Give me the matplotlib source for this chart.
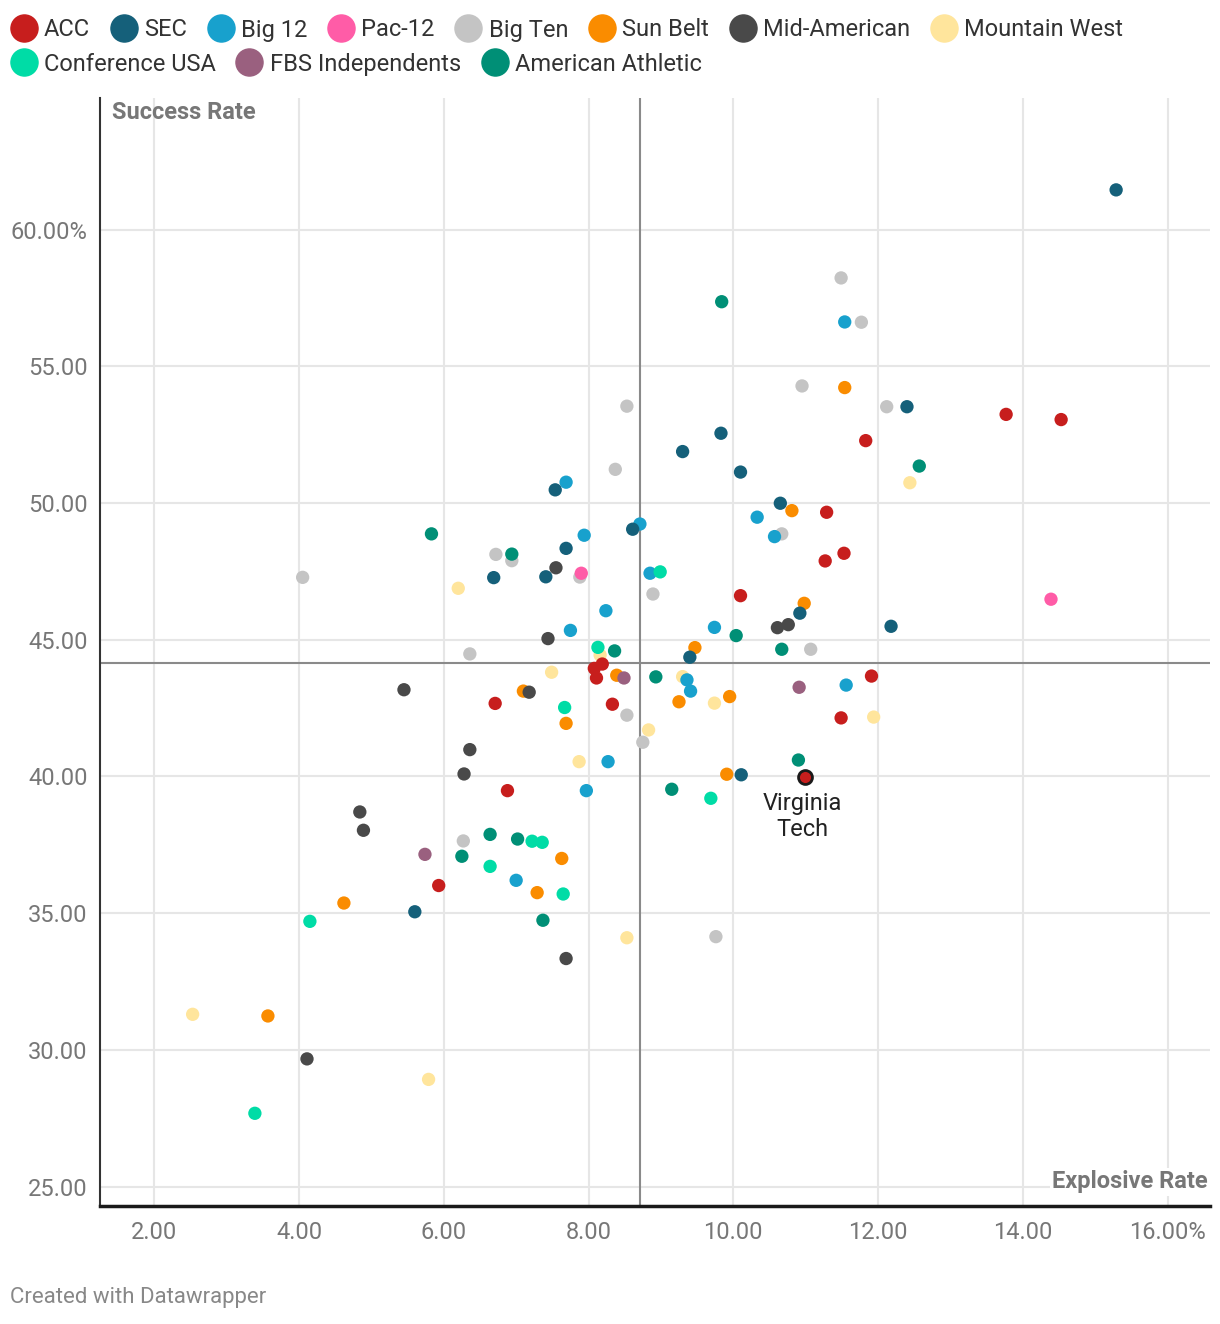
import matplotlib
matplotlib.use("Agg")
import matplotlib.pyplot as plt
from matplotlib.lines import Line2D
from matplotlib.ticker import FixedLocator, FuncFormatter

plt.rcParams['font.family'] = ['Roboto', 'DejaVu Sans']

# ---------------- data ----------------
conferences = ["ACC", "SEC", "Big 12", "Pac-12", "Big Ten", "Sun Belt", "Mid-American",
               "Mountain West", "Conference USA", "FBS Independents", "American Athletic"]
conf_colors = ["#c71e1d", "#15607a", "#18a1cd", "#ff5ca7", "#c4c4c4", "#fa8c00", "#494949",
               "#ffe59c", "#00dca6", "#9a607f", "#008f76"]

acc_x = [13.77, 14.53, 11.83, 11.29, 11.53, 11.27, 10.10, 11.91, 8.19, 8.08, 8.11, 6.71, 8.33, 11.49, 10.99, 6.88, 5.93]
acc_y = [53.24, 53.05, 52.28, 49.66, 48.16, 47.88, 46.61, 43.67, 44.11, 43.95, 43.60, 42.67, 42.64, 42.14, 39.98, 39.48, 36.01]
acc_names = ["", "", "", "", "", "", "", "", "", "", "", "", "", "", "Virginia Tech", "", ""]

sec_x = [15.29, 12.40, 9.83, 9.30, 10.10, 7.54, 10.65, 8.61, 7.69, 6.69, 7.41, 10.92, 12.18, 9.40, 10.11, 5.60]
sec_y = [61.45, 53.52, 52.55, 51.88, 51.13, 50.48, 49.99, 49.04, 48.34, 47.27, 47.30, 45.97, 45.49, 44.36, 40.06, 35.05]

big12_x = [11.54, 7.69, 10.33, 10.57, 8.71, 7.94, 8.85, 8.24, 9.74, 7.75, 9.36, 9.41, 11.56, 8.27, 7.97, 7.00]
big12_y = [56.62, 50.76, 49.48, 48.77, 49.23, 48.82, 47.43, 46.06, 45.45, 45.34, 43.53, 43.12, 43.34, 40.54, 39.48, 36.20]

pac12_x = [7.90, 14.39]
pac12_y = [47.43, 46.48]

bigten_x = [11.49, 11.77, 10.95, 8.53, 12.12, 8.37, 10.67, 6.72, 6.94, 4.05, 7.88, 8.89, 11.07, 6.36, 8.53, 8.75, 6.27, 9.76]
bigten_y = [58.23, 56.61, 54.28, 53.54, 53.52, 51.23, 48.87, 48.12, 47.89, 47.28, 47.29, 46.67, 44.65, 44.48, 42.24, 41.25, 37.64, 34.14]

sunbelt_x = [11.54, 10.81, 10.98, 9.47, 8.39, 7.10, 9.95, 9.25, 7.69, 9.91, 7.63, 7.29, 4.62, 3.57]
sunbelt_y = [54.22, 49.72, 46.33, 44.71, 43.70, 43.12, 42.92, 42.73, 41.94, 40.08, 37.00, 35.75, 35.37, 31.24]

midam_x = [7.55, 10.61, 10.76, 7.44, 5.45, 7.18, 6.36, 6.28, 4.84, 4.89, 7.69, 4.11]
midam_y = [47.63, 45.44, 45.55, 45.04, 43.17, 43.08, 40.98, 40.09, 38.70, 38.03, 33.34, 29.67]

mw_x = [12.44, 6.20, 7.49, 8.16, 9.30, 9.74, 11.94, 8.83, 7.87, 8.53, 2.53, 5.79]
mw_y = [50.74, 46.88, 43.81, 44.44, 43.65, 42.68, 42.17, 41.70, 40.54, 34.10, 31.30, 28.92]

cusa_x = [8.99, 8.13, 7.67, 9.69, 7.22, 7.36, 6.64, 7.65, 4.15, 3.39]
cusa_y = [47.48, 44.72, 42.52, 39.20, 37.63, 37.59, 36.71, 35.70, 34.70, 27.68]

fbs_x = [8.49, 10.91, 5.74]
fbs_y = [43.60, 43.26, 37.15]

aac_x = [9.84, 12.57, 5.83, 6.94, 10.04, 8.36, 10.67, 8.93, 10.90, 9.15, 6.64, 7.02, 6.25, 7.37]
aac_y = [57.36, 51.35, 48.87, 48.13, 45.15, 44.59, 44.65, 43.64, 40.60, 39.53, 37.88, 37.71, 37.08, 34.74]

avg_explosive = 8.71
avg_success = 44.16

x_ticks = [2, 4, 6, 8, 10, 12, 14, 16]
y_ticks = [25, 30, 35, 40, 45, 50, 55, 60]

# ---------------- figure ----------------
W, H = 1220, 1324
fig = plt.figure(figsize=(W / 100, H / 100), dpi=100)
ax = fig.add_axes([100 / W, 1 - 1206 / H, 1110 / W, 1108 / H])
ax.set_xlim(1.25, 16.587)
ax.set_ylim(24.29, 64.81)

color_of = dict(zip(conferences, conf_colors))
series = {
    "ACC": (acc_x, acc_y), "SEC": (sec_x, sec_y), "Big 12": (big12_x, big12_y),
    "Pac-12": (pac12_x, pac12_y), "Big Ten": (bigten_x, bigten_y), "Sun Belt": (sunbelt_x, sunbelt_y),
    "Mid-American": (midam_x, midam_y), "Mountain West": (mw_x, mw_y),
    "Conference USA": (cusa_x, cusa_y), "FBS Independents": (fbs_x, fbs_y),
    "American Athletic": (aac_x, aac_y),
}
draw_order = ["Mountain West", "Big Ten", "Sun Belt", "Big 12", "SEC", "ACC", "Conference USA",
              "Mid-American", "FBS Independents", "Pac-12", "American Athletic"]

# grid
for v in x_ticks:
    ax.axvline(v, color="#e6e6e6", lw=1.5, zorder=0)
for v in y_ticks:
    ax.axhline(v, color="#e6e6e6", lw=1.5, zorder=0)

# reference lines
ax.axvline(avg_explosive, color="#8a8a8a", lw=1.5, zorder=1)
ax.axhline(avg_success, color="#8a8a8a", lw=1.5, zorder=1)

for z, name in enumerate(draw_order):
    xs, ys = series[name]
    ax.scatter(xs, ys, s=92, color=color_of[name], edgecolors="none", zorder=3 + z * 0.01)

# highlight
hi = acc_names.index("Virginia Tech")
ax.scatter([acc_x[hi]], [acc_y[hi]], s=100, color=color_of["ACC"], edgecolors="#1a1a1a",
           linewidths=2, zorder=5)
ax.annotate("Virginia\nTech", (acc_x[hi], acc_y[hi]), xytext=(-2, -11), textcoords="offset points",
            ha="center", va="top", fontsize=17, color="#222222", linespacing=1.15,
            multialignment="center", zorder=6)

# axes styling
for s in ["top", "right"]:
    ax.spines[s].set_visible(False)
ax.spines["left"].set_color("#333333")
ax.spines["left"].set_linewidth(1.5)
ax.spines["bottom"].set_color("#1a1a1a")
ax.spines["bottom"].set_linewidth(2.5)
ax.spines["left"].set_zorder(2)
ax.spines["bottom"].set_zorder(2)

ax.xaxis.set_major_locator(FixedLocator(x_ticks))
ax.yaxis.set_major_locator(FixedLocator(y_ticks))
ax.xaxis.set_major_formatter(FuncFormatter(lambda v, p: f"{v:.2f}%" if v == x_ticks[-1] else f"{v:.2f}"))
ax.yaxis.set_major_formatter(FuncFormatter(lambda v, p: f"{v:.2f}%" if v == y_ticks[-1] else f"{v:.2f}"))
ax.tick_params(axis="both", length=0, labelsize=17, labelcolor="#777777")
ax.tick_params(axis="y", pad=9)
ax.tick_params(axis="x", pad=11)

ax.text(0.0108, 0.9865, "Success Rate", transform=ax.transAxes, ha="left", va="center",
        fontsize=17, fontweight="bold", color="#777777")
ax.text(0.9982, 0.0217, "Explosive Rate", transform=ax.transAxes, ha="right", va="center",
        fontsize=17, fontweight="bold", color="#777777", zorder=7,
        bbox=dict(facecolor="white", edgecolor="none", pad=2))

# legend (manual, row-wise like Datawrapper)
renderer = fig.canvas.get_renderer()
rows = [conferences[:8], conferences[8:]]
row_y = [27.5, 62]
for r, names in enumerate(rows):
    x = 10
    for name in names:
        yy = 1 - row_y[r] / H
        fig.add_artist(Line2D([(x + 13.5) / W], [yy], marker="o", markersize=19.5,
                              color=color_of[name], linestyle="none", transform=fig.transFigure))
        t = fig.text((x + 34) / W, yy, name, fontsize=17, va="center_baseline", ha="left",
                     color="#333333")
        bb = t.get_window_extent(renderer)
        x = bb.x1 + 20

fig.text(10 / W, 1 - 1298 / H, "Created with Datawrapper", fontsize=16, color="#888888",
         va="center", ha="left")

fig.savefig("out.png", dpi=100)
